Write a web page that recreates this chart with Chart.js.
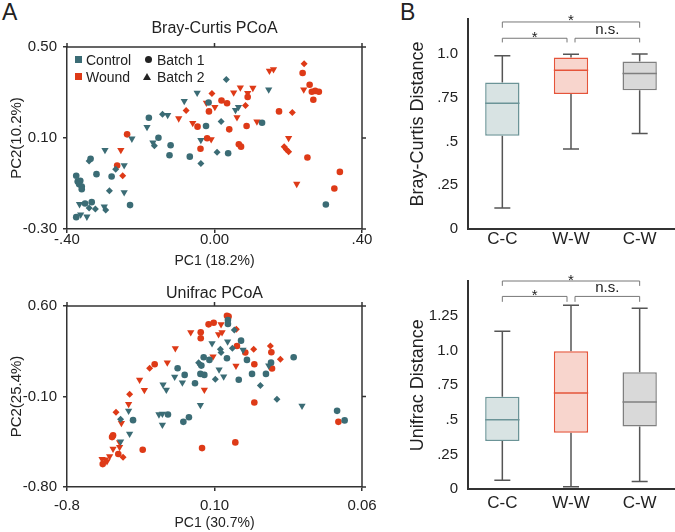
<!DOCTYPE html>
<html>
<head>
    <title>PCoA and Distance Box Plots</title>
    <meta charset="UTF-8">
    <script src="https://cdn.jsdelivr.net/npm/chart.js"></script>
    <style>
        body { margin: 0; width: 675px; height: 532px; position: relative; overflow: hidden; background: #fff;
               font-family: 'Liberation Sans', Arial, sans-serif; color: #222; }
        canvas { position: absolute; }
        .panel { position: absolute; font-size: 23px; line-height: 23px; }
        .lg { position: absolute; font-size: 14px; line-height: 16px; white-space: nowrap; }
        .sq { position: absolute; width: 7px; height: 7px; }
        .dot { position: absolute; width: 7px; height: 7px; border-radius: 50%; background: #222; }
        .tri { position: absolute; width: 0; height: 0; border-left: 4px solid transparent;
               border-right: 4px solid transparent; border-bottom: 7px solid #222; }
    </style>
</head>
<body>
    <div class="panel" style="left:2px;top:1px">A</div>
    <div class="panel" style="left:400px;top:1px">B</div>

    <canvas id="bcScatter" width="400" height="270" style="left:0;top:0"></canvas>
    <canvas id="ufScatter" width="400" height="270" style="left:0;top:262px"></canvas>
    <canvas id="bcBox" width="275" height="265" style="left:400px;top:0"></canvas>
    <canvas id="ufBox" width="275" height="270" style="left:400px;top:262px"></canvas>

    <!-- legend of the Bray-Curtis PCoA -->
    <div class="sq" style="left:75px;top:56px;background:#3b6c75"></div>
    <div class="lg" style="left:86px;top:52px">Control</div>
    <div class="dot" style="left:145px;top:56px"></div>
    <div class="lg" style="left:157px;top:52px">Batch 1</div>
    <div class="sq" style="left:75px;top:73px;background:#de3a17"></div>
    <div class="lg" style="left:86px;top:69px">Wound</div>
    <div class="tri" style="left:143px;top:73px"></div>
    <div class="lg" style="left:157px;top:69px">Batch 2</div>

    <script>
        const CONTROL = '#3b6c75';
        const WOUND = '#de3a17';

        // Bray-Curtis PCoA, [PC1, PC2]
        const bcControlCircle = [[-0.016,0.256],[0.129,0.167],[-0.023,0.153],[-0.178,0.189],[-0.152,0.101],[-0.119,0.068],
            [-0.122,0.024],[-0.067,0.018],[0.037,0.033],[-0.336,0.009],[-0.320,-0.059],[-0.279,-0.069],[-0.375,-0.066],
            [-0.371,-0.091],[-0.364,-0.088],[-0.367,-0.103],[-0.360,-0.113],[-0.360,-0.125],[-0.229,-0.195],[-0.351,-0.188],
            [-0.333,-0.182],[-0.375,-0.248],[0.302,-0.192]];
        const bcControlTriangle = [[-0.047,0.299],[-0.082,0.262],[0.065,0.236],[0.057,0.223],[0.147,0.313],[-0.127,0.201],
            [-0.183,0.148],[-0.224,0.097],[-0.167,0.080],[-0.037,0.091],[-0.297,0.047],[-0.245,-0.020],[-0.245,-0.139],
            [-0.366,-0.191],[-0.299,-0.202],[-0.363,-0.237],[-0.346,-0.246]];
        const bcControlDiamond = [[0.032,0.357],[0.018,0.173],[-0.141,0.204],[-0.163,0.066],[-0.037,-0.012],[0.007,0.037],
            [-0.340,-0.001],[-0.268,-0.037],[-0.285,-0.132],[-0.340,-0.208],[-0.323,-0.212],[-0.295,-0.217]];
        const bcWoundCircle = [[0.239,0.386],[0.258,0.334],[0.264,0.303],[0.273,0.307],[0.283,0.303],[0.268,0.268],
            [0.090,0.280],[0.019,0.265],[0.034,0.253],[-0.015,0.217],[-0.046,0.150],[0.087,0.153],[0.040,0.138],
            [-0.020,0.099],[-0.038,0.053],[0.066,0.072],[0.072,0.062],[0.175,0.217],[0.252,0.014],[0.340,-0.049],
            [0.325,-0.122],[-0.237,0.116],[-0.264,-0.021]];
        const bcWoundTriangle = [[0.242,0.313],[0.149,0.395],[0.160,0.402],[0.070,0.322],[0.052,0.300],[0.104,0.320],
            [0.090,0.297],[-0.022,0.255],[0.001,0.236],[-0.097,0.186],[-0.059,0.166],[0.061,0.191],[0.115,0.172],
            [-0.009,0.094],[0.201,0.100],[0.223,-0.102],[-0.254,0.047]];
        const bcWoundDiamond = [[0.243,0.426],[0.084,0.243],[-0.007,0.296],[-0.077,0.221],[0.211,0.212],[0.189,0.062],
            [0.195,0.050],[0.201,0.040],[-0.249,-0.066]];

        // Unifrac PCoA, [PC1, PC2]
        const ufControlCircle = [[0.182,0.492],[0.182,0.461],[0.262,0.332],[0.034,0.204],[0.069,0.183],[0.176,0.196],
            [0.298,0.183],[0.445,0.162],[0.583,0.204],[0.020,0.139],[-0.125,0.119],[-0.082,0.067],[0.014,0.075],
            [0.038,0.067],[-0.019,0.003],[0.248,0.029],[0.329,0.075],[0.414,0.075],[0.848,-0.211],[0.894,-0.285],
            [-0.184,-0.239],[-0.090,-0.296],[-0.056,-0.260],[-0.397,-0.283]];
        const ufControlTriangle = [[0.085,0.312],[0.180,0.325],[0.274,0.260],[0.431,0.139],[-0.143,0.052],[-0.096,0.008],
            [0.128,0.108],[0.156,0.054],[0.634,-0.172],[0.014,-0.167],[-0.214,-0.007],[-0.194,-0.049],[-0.239,-0.239],
            [-0.218,-0.234],[-0.218,-0.319],[-0.418,-0.388],[-0.473,-0.448],[-0.424,-0.211]];
        const ufControlDiamond = [[0.221,0.415],[0.209,0.273],[0.136,0.265],[0.140,0.240],[0.003,0.162],[0.014,0.144],
            [0.105,0.034],[0.380,-0.015],[0.481,-0.121],[-0.473,-0.275]];
        const ufWoundCircle = [[0.176,0.525],[0.186,0.518],[0.064,0.458],[0.095,0.471],[0.016,0.397],[0.016,0.350],
            [0.237,0.291],[0.288,0.240],[0.447,0.242],[0.343,0.150],[0.451,0.116],[0.343,-0.146],[0.856,-0.296],
            [0.227,-0.455],[0.024,-0.499],[-0.265,0.150],[-0.519,-0.401],[-0.525,-0.414],[-0.487,-0.545],
            [-0.338,-0.512],[-0.582,-0.623]];
        const ufWoundTriangle = [[0.140,0.458],[-0.045,0.397],[0.125,0.381],[0.146,0.397],[0.231,0.137],[0.091,0.209],
            [0.038,-0.049],[-0.139,0.273],[-0.188,0.162],[-0.357,0.029],[-0.328,-0.051],[-0.424,-0.159],[-0.468,-0.306],
            [-0.479,-0.455],[-0.479,-0.491],[-0.519,-0.504],[-0.586,-0.584],[-0.566,-0.589],[-0.540,-0.563],[-0.556,-0.602]];
        const ufWoundDiamond = [[0.233,0.420],[0.339,0.265],[0.441,0.291],[0.502,0.188],[-0.296,0.119],[-0.418,-0.082],
            [-0.501,-0.221],[-0.458,-0.569]];

        // scatter tick values and their printed labels
        const bcTicksX = [-0.4, 0, 0.4];
        const bcLabelsX = ['-.40', '0.00', '.40'];
        const bcTicksY = [-0.3, 0.1, 0.5];
        const bcLabelsY = ['-0.30', '0.10', '0.50'];
        const ufTicksX = [-0.8, 0.1, 1.0];
        const ufLabelsX = ['-0.8', '0.10', '0.06'];
        const ufTicksY = [-0.8, -0.1, 0.6];
        const ufLabelsY = ['-0.80', '-0.10', '0.60'];

        // box plots
        const boxCategories = ['C-C', 'W-W', 'C-W'];
        const bcMin = [0.12, 0.457, 0.546];
        const bcQ1 = [0.533, 0.772, 0.793];
        const bcMedian = [0.718, 0.907, 0.889];
        const bcQ3 = [0.837, 0.98, 0.957];
        const bcMax = [0.99, 0.998, 1.0];
        const ufMin = [0.065, 0.018, 0.056];
        const ufQ1 = [0.347, 0.407, 0.453];
        const ufMedian = [0.5, 0.694, 0.629];
        const ufQ3 = [0.667, 0.995, 0.842];
        const ufMax = [1.139, 1.326, 1.303];
        const boxTicks = [0, 0.25, 0.5, 0.75, 1.0, 1.25];
        const boxTickLabels = ['0', '.25', '.5', '.75', '1.0', '1.25'];
        const sigLabels = ['*', '*', 'n.s.'];   // C-C vs C-W, C-C vs W-W, W-W vs C-W

        const boxFill = ['#d8e3e3', '#f8d5cd', '#d9d9d9'];
        const boxEdge = ['#6b9497', '#e5543a', '#7f7f7f'];
        const INK = '#222';
        const AXIS = '#333';

        // closes the box of the scatter plots and mirrors the ticks
        const framePlugin = {
            id: 'frame',
            afterDraw(chart) {
                const { ctx, chartArea: a, scales: { x, y } } = chart;
                ctx.save();
                ctx.strokeStyle = AXIS;
                ctx.lineWidth = 1.5;
                ctx.beginPath();
                ctx.moveTo(a.left, a.top);
                ctx.lineTo(a.right, a.top);
                ctx.lineTo(a.right, a.bottom);
                x.ticks.forEach(t => {
                    const px = x.getPixelForValue(t.value);
                    ctx.moveTo(px, a.top);
                    ctx.lineTo(px, a.top - 4);
                });
                y.ticks.forEach(t => {
                    const py = y.getPixelForValue(t.value);
                    ctx.moveTo(a.right, py);
                    ctx.lineTo(a.right + 4, py);
                });
                ctx.stroke();
                ctx.restore();
            }
        };

        function scatterChart(id, o) {
            const sets = [
                [o.cc, CONTROL, 'circle', 0, 3.3], [o.ct, CONTROL, 'triangle', 180, 4.2], [o.cd, CONTROL, 'rectRot', 0, 3.5],
                [o.wc, WOUND, 'circle', 0, 3.3], [o.wt, WOUND, 'triangle', 180, 4.2], [o.wd, WOUND, 'rectRot', 0, 3.5]
            ];
            new Chart(document.getElementById(id), {
                type: 'scatter',
                data: {
                    datasets: sets.map(s => ({
                        data: s[0].map(p => ({ x: p[0], y: p[1] })),
                        backgroundColor: s[1],
                        borderColor: s[1],
                        borderWidth: 0,
                        pointStyle: s[2],
                        rotation: s[3],
                        pointRadius: s[4],
                        pointHoverRadius: s[4]
                    }))
                },
                options: {
                    responsive: false,
                    animation: false,
                    layout: { padding: { left: 0, right: 38, top: o.padTop, bottom: 0 } },
                    plugins: {
                        legend: { display: false },
                        tooltip: { enabled: false },
                        title: {
                            display: true, text: o.title, fullSize: false, color: INK,
                            font: { size: 16, weight: 'normal' }, padding: { top: 0, bottom: o.titleGap }
                        }
                    },
                    scales: {
                        x: {
                            type: 'linear', min: o.ticksX[0], max: o.ticksX[2],
                            afterBuildTicks: s => { s.ticks = o.ticksX.map(v => ({ value: v })); },
                            afterFit: s => { s.height = o.xHeight; },
                            ticks: { callback: (v, i) => o.labelsX[i], color: INK, font: { size: 15, lineHeight: 1 },
                                     padding: o.xPad, maxRotation: 0, autoSkip: false },
                            grid: { drawOnChartArea: false, tickLength: 4, color: AXIS, lineWidth: 1.5 },
                            border: { color: AXIS, width: 1.5 },
                            title: { display: true, text: o.xTitle, color: INK, font: { size: 14 }, padding: { top: 0, bottom: 0 } }
                        },
                        y: {
                            type: 'linear', min: o.ticksY[0], max: o.ticksY[2],
                            afterBuildTicks: s => { s.ticks = o.ticksY.map(v => ({ value: v })); },
                            afterFit: s => { s.width = 67; },
                            ticks: { callback: (v, i) => o.labelsY[i], color: INK, font: { size: 15 }, padding: 6, autoSkip: false },
                            grid: { drawOnChartArea: false, tickLength: 4, color: AXIS, lineWidth: 1.5 },
                            border: { color: AXIS, width: 1.5 },
                            title: { display: true, text: o.yTitle, color: INK, font: { size: 15 }, padding: { top: 8, bottom: 0 } }
                        }
                    }
                },
                plugins: [framePlugin]
            });
        }

        function boxPlugin(st, brackets) {
            return {
                id: 'boxes',
                beforeDatasetsDraw(chart) {
                    const { ctx, scales: { x, y } } = chart;
                    ctx.save();
                    ctx.strokeStyle = '#555';
                    ctx.lineWidth = 1.5;
                    ctx.beginPath();
                    boxCategories.forEach((c, i) => {
                        const px = x.getPixelForValue(i);
                        ctx.moveTo(px, y.getPixelForValue(st.max[i]));
                        ctx.lineTo(px, y.getPixelForValue(st.q3[i]));
                        ctx.moveTo(px, y.getPixelForValue(st.q1[i]));
                        ctx.lineTo(px, y.getPixelForValue(st.min[i]));
                        [st.max[i], st.min[i]].forEach(v => {
                            const py = y.getPixelForValue(v);
                            ctx.moveTo(px - 8, py);
                            ctx.lineTo(px + 8, py);
                        });
                    });
                    ctx.stroke();
                    ctx.restore();
                },
                afterDatasetsDraw(chart) {
                    const { ctx, scales: { y } } = chart;
                    const bars = chart.getDatasetMeta(0).data;
                    ctx.save();
                    ctx.lineWidth = 1.5;
                    bars.forEach((bar, i) => {
                        const py = y.getPixelForValue(st.median[i]);
                        ctx.strokeStyle = boxEdge[i];
                        ctx.beginPath();
                        ctx.moveTo(bar.x - bar.width / 2, py);
                        ctx.lineTo(bar.x + bar.width / 2, py);
                        ctx.stroke();
                    });
                    ctx.restore();
                },
                afterDraw(chart) {
                    const { ctx, scales: { x, y } } = chart;
                    ctx.save();
                    ctx.strokeStyle = '#777';
                    ctx.lineWidth = 1;
                    ctx.fillStyle = INK;
                    ctx.textAlign = 'center';
                    ctx.textBaseline = 'alphabetic';
                    brackets.forEach((b, k) => {
                        const x1 = x.getPixelForValue(b.from) + b.in1;
                        const x2 = x.getPixelForValue(b.to) + b.in2;
                        const yl = y.getPixelForValue(b.level);
                        const yd = y.getPixelForValue(b.drop);
                        ctx.beginPath();
                        ctx.moveTo(x1, yd);
                        ctx.lineTo(x1, yl);
                        ctx.lineTo(x2, yl);
                        ctx.lineTo(x2, yd);
                        ctx.stroke();
                        const txt = sigLabels[k];
                        ctx.font = '15px "Liberation Sans", Arial, sans-serif';
                        ctx.fillText(txt, (x1 + x2) / 2, txt === '*' ? yl + 3.5 : yl - 4);
                    });
                    ctx.restore();
                }
            };
        }

        function boxChart(id, st, o) {
            new Chart(document.getElementById(id), {
                type: 'bar',
                data: {
                    labels: boxCategories,
                    datasets: [{
                        data: st.q1.map((q, i) => [q, st.q3[i]]),
                        backgroundColor: boxFill,
                        borderColor: boxEdge,
                        borderWidth: 1.5,
                        borderSkipped: false,
                        barPercentage: 0.5,
                        categoryPercentage: 1
                    }]
                },
                options: {
                    responsive: false,
                    animation: false,
                    layout: { padding: { left: 0, right: 1, top: o.padTop, bottom: 0 } },
                    plugins: { legend: { display: false }, tooltip: { enabled: false } },
                    scales: {
                        x: {
                            afterFit: s => { s.height = o.xHeight; },
                            ticks: { color: INK, font: { size: 17 }, padding: o.xPad },
                            grid: { drawOnChartArea: false, drawTicks: false },
                            border: { color: AXIS, width: 2 }
                        },
                        y: {
                            min: 0, max: o.yMax,
                            afterBuildTicks: s => { s.ticks = boxTicks.filter(v => v < o.yMax).map(v => ({ value: v })); },
                            afterFit: s => { s.width = 68; },
                            ticks: { callback: (v, i) => boxTickLabels[i], color: INK, font: { size: 15 }, padding: 10 },
                            grid: { drawOnChartArea: false, drawTicks: false },
                            border: { color: AXIS, width: 2 },
                            title: { display: true, text: o.yTitle, color: INK, font: { size: 18 }, padding: { top: 7, bottom: 0 } }
                        }
                    }
                },
                plugins: [boxPlugin(st, o.brackets)]
            });
        }

        scatterChart('bcScatter', {
            cc: bcControlCircle, ct: bcControlTriangle, cd: bcControlDiamond,
            wc: bcWoundCircle, wt: bcWoundTriangle, wd: bcWoundDiamond,
            ticksX: bcTicksX, labelsX: bcLabelsX, ticksY: bcTicksY, labelsY: bcLabelsY,
            title: 'Bray-Curtis PCoA', xTitle: 'PC1 (18.2%)', yTitle: 'PC2(10.2%)',
            padTop: 18.7, titleGap: 9.1, xHeight: 41, xPad: -1
        });
        scatterChart('ufScatter', {
            cc: ufControlCircle, ct: ufControlTriangle, cd: ufControlDiamond,
            wc: ufWoundCircle, wt: ufWoundTriangle, wd: ufWoundDiamond,
            ticksX: ufTicksX, labelsX: ufLabelsX, ticksY: ufTicksY, labelsY: ufLabelsY,
            title: 'Unifrac PCoA', xTitle: 'PC1 (30.7%)', yTitle: 'PC2(25.4%)',
            padTop: 21.7, titleGap: 3.1, xHeight: 45, xPad: 7
        });

        boxChart('bcBox', { min: bcMin, q1: bcQ1, median: bcMedian, q3: bcQ3, max: bcMax }, {
            yTitle: 'Bray-Curtis Distance', yMax: 1.2, padTop: 12, xHeight: 36, xPad: 0,
            brackets: [
                { from: 0, to: 2, level: 1.183, drop: 1.15, in1: 0, in2: 0 },
                { from: 0, to: 1, level: 1.09, drop: 1.066, in1: 0, in2: -4 },
                { from: 1, to: 2, level: 1.09, drop: 1.066, in1: 4, in2: 0 }
            ]
        });
        boxChart('ufBox', { min: ufMin, q1: ufQ1, median: ufMedian, q3: ufQ3, max: ufMax }, {
            yTitle: 'Unifrac Distance', yMax: 1.5, padTop: 10.7, xHeight: 42.7, xPad: 3.5,
            brackets: [
                { from: 0, to: 2, level: 1.5, drop: 1.465, in1: 0, in2: 0 },
                { from: 0, to: 1, level: 1.389, drop: 1.35, in1: 0, in2: -4 },
                { from: 1, to: 2, level: 1.389, drop: 1.35, in1: 4, in2: 0 }
            ]
        });
    </script>
</body>
</html>
